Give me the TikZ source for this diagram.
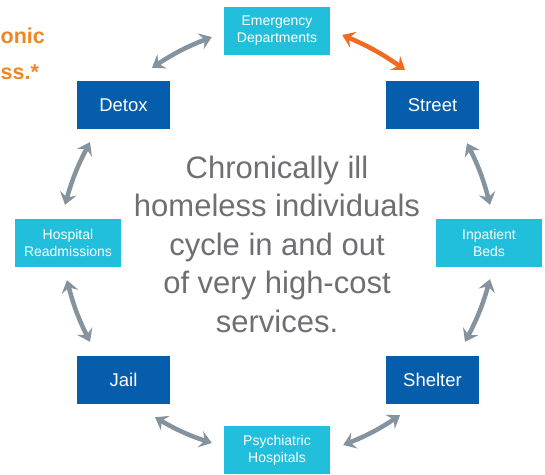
\documentclass[tikz,border=0pt]{standalone}
\usepackage{fontspec}
\setmainfont{Liberation Sans}
\usetikzlibrary{arrows.meta}
\definecolor{darkblue}{HTML}{055DAB}
\definecolor{cyanbox}{HTML}{22BFDD}
\definecolor{arrowgray}{HTML}{84939D}
\definecolor{arroworange}{HTML}{F26A21}
\definecolor{titleorange}{HTML}{F08524}
\definecolor{textgray}{HTML}{6E6F72}
\tikzset{
  bigbox/.style={fill=darkblue, text=white, minimum width=93pt, minimum height=48pt, inner sep=0pt, font=\fontsize{18.5}{22}\selectfont},
  smallbox/.style={fill=cyanbox, text=white, minimum width=106pt, minimum height=48pt, inner sep=0pt, align=center, font=\fontsize{14}{17}\selectfont},
  cyclearrow/.style={line width=4.5pt, arrowgray, {Stealth[length=12pt,width=17pt,inset=4.5pt]}-{Stealth[length=12pt,width=17pt,inset=4.5pt]}, bend left=6},
  hotarrow/.style={cyclearrow, arroworange},
  titletext/.style={anchor=base west, inner sep=0pt, text=titleorange, font=\fontsize{21.5}{26}\selectfont\bfseries}
}
\begin{document}
\begin{tikzpicture}[x=1pt,y=-1pt]
\useasboundingbox (0,0) rectangle (545,474);
% title text fragments
\node[titletext] (t1) at (0.5,43) {onic};
\node[titletext] (t2) at (0.5,79) {ss.*};
% boxes
\node[smallbox] (ed) at (277,31) {Emergency\\Departments};
\node[bigbox] (street) at (432.5,105) {Street};
\node[bigbox] (detox) at (123.5,105) {Detox};
\node[smallbox] (hr) at (68,243) {Hospital\\Readmissions};
\node[smallbox] (ib) at (489,243) {Inpatient\\Beds};
\node[bigbox] (jail) at (123.5,380) {Jail};
\node[bigbox] (shelter) at (432.5,380) {Shelter};
\node[smallbox] (ph) at (277,450) {Psychiatric\\Hospitals};
% centre text
\node[align=center, inner sep=0pt, text=textgray, font=\fontsize{31}{38.5}\selectfont] (centre) at (277,244)
  {Chronically ill\\homeless individuals\\cycle in and out\\of very high-cost\\services.};
% arrows
\draw[cyclearrow] ([shift={(28.5,-13)}]detox.north) to ([shift={(-12,6)}]ed.west);
\draw[hotarrow] ([shift={(12,4)}]ed.east) to ([shift={(-27.5,-11)}]street.north);
\draw[cyclearrow] ([shift={(34.5,14)}]street.south) to ([shift={(1,-14)}]ib.north);
\draw[cyclearrow] ([shift={(1,12)}]ib.south) to ([shift={(32.5,-14)}]shelter.north);
\draw[cyclearrow] ([shift={(-32.5,11)}]shelter.south) to ([shift={(13,-5)}]ph.east);
\draw[cyclearrow] ([shift={(-12,-7)}]ph.west) to ([shift={(31.5,13)}]jail.south);
\draw[cyclearrow] ([shift={(-33.5,-14)}]jail.north) to ([shift={(-1,13)}]hr.south);
\draw[cyclearrow] ([shift={(-3,-14)}]hr.north) to ([shift={(-33.5,13)}]detox.south);
\end{tikzpicture}
\end{document}
